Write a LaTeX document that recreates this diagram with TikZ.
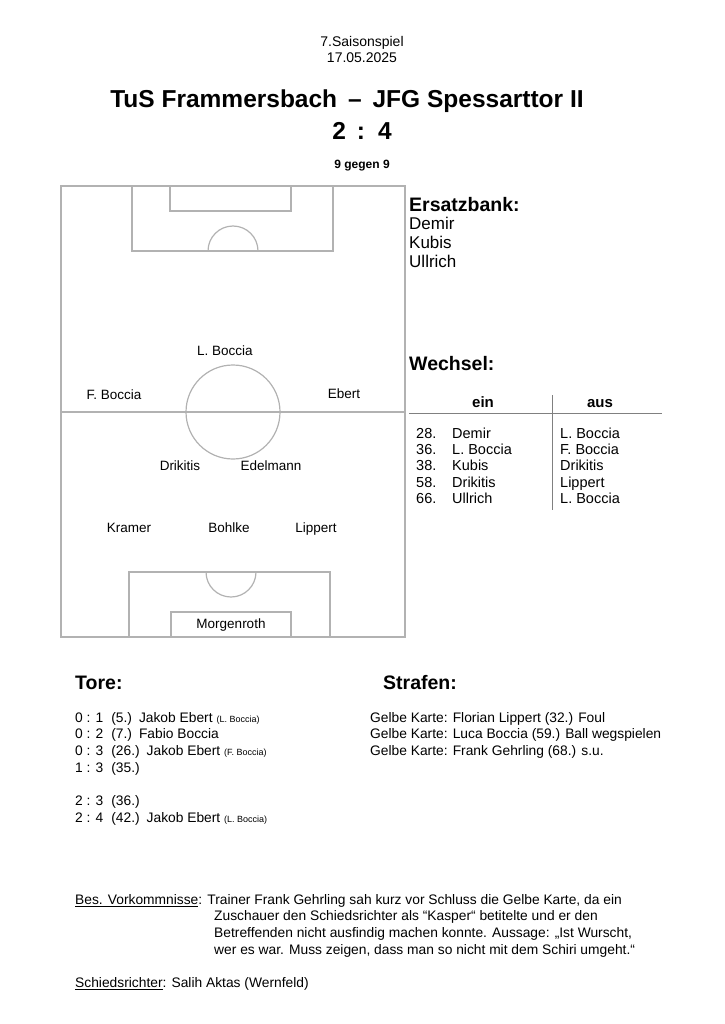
\documentclass[tikz,border=0pt]{standalone}
\usepackage{fontspec}
\setmainfont{Liberation Sans}
\usetikzlibrary{positioning}
\begin{document}
\begin{tikzpicture}[x=1pt,y=-1pt]
        \tikzset{pitch/.style = {draw=gray!60,line width=1.2pt}}
        \tikzset{player/.style = {font=\fontsize{13.5}{15}\selectfont,inner sep=0pt,text height=9.5pt,text depth=2.5pt}}
        \tikzset{txt/.style = {anchor=west,inner sep=0pt,font=\fontsize{13.8}{16}\selectfont,text height=10pt,text depth=3pt}}
        \tikzset{head/.style = {anchor=west,inner sep=0pt,font=\fontsize{19.5}{22}\selectfont\bfseries}}
        \useasboundingbox (0,0) rectangle (724,1024);

        % header
        \node[inner sep=0pt,font=\fontsize{14}{17}\selectfont] (nr) at (362,43) {7.Saisonspiel};
        \node[inner sep=0pt,font=\fontsize{14}{17}\selectfont] (date) at (362,58) {17.05.2025};
        \node[inner sep=0pt,font=\fontsize{24.5}{28}\selectfont\bfseries] (title) at (347,101) {TuS Frammersbach \,--\, JFG Spessarttor II};
        \node[inner sep=0pt,font=\fontsize{24.5}{28}\selectfont\bfseries] (score) at (362,131) {2\, :\, 4};
        \node[inner sep=0pt,font=\fontsize{12}{14}\selectfont\bfseries] (mode) at (362,166) {9 gegen 9};

        % pitch
        \draw[pitch] (61,186) rectangle (405,637);
        \draw[pitch] (61,412) -- (405,412);
        \draw[pitch] (233,412) circle (47);
        \draw[pitch] (132,186) rectangle (333,251);
        \draw[pitch] (170,186) rectangle (291,211);
        \draw[pitch] (258,251) arc (0:-180:25);
        \draw[pitch] (129,572) rectangle (330,637);
        \draw[pitch] (171,612) rectangle (291,637);
        \draw[pitch] (206,572) arc (180:0:25);

        \node[player] (lb) at (225,352) {L. Boccia};
        \node[player] (fb) at (114,396) {F. Boccia};
        \node[player] (eb) at (344,395) {Ebert};
        \node[player] (dr) at (180,467) {Drikitis};
        \node[player] (ed) at (271,467) {Edelmann};
        \node[player] (kr) at (129,529) {Kramer};
        \node[player] (bo) at (229,529) {Bohlke};
        \node[player] (li) at (316,529) {Lippert};
        \node[player] (mo) at (231,625) {Morgenroth};

        % Ersatzbank
        \node[head] (bank) at (409,205) {Ersatzbank:};
        \node[txt,font=\fontsize{17}{19}\selectfont] (b1) at (409,226) {Demir};
        \node[txt,font=\fontsize{17}{19}\selectfont] (b2) at (409,245) {Kubis};
        \node[txt,font=\fontsize{17}{19}\selectfont] (b3) at (409,264) {Ullrich};

        % Wechsel
        \node[head] (wechsel) at (409,364) {Wechsel:};
        \node[player,font=\fontsize{15}{17}\selectfont\bfseries] (ein) at (483,404) {ein};
        \node[player,font=\fontsize{15}{17}\selectfont\bfseries] (aus) at (600,404) {aus};
        \draw[gray] (409,413) -- (662,413);
        \draw[gray] (552,395) -- (552,510);
        \foreach \y/\m/\i/\o in {435/28./Demir/L. Boccia, 451/36./L. Boccia/F. Boccia,
            467/38./Kubis/Drikitis, 484/58./Drikitis/Lippert, 500/66./Ullrich/L. Boccia}{
            \node[txt,font=\fontsize{14.5}{17}\selectfont] at (416,\y) {\m};
            \node[txt,font=\fontsize{14.5}{17}\selectfont] at (452,\y) {\i};
            \node[txt,font=\fontsize{14.5}{17}\selectfont] at (560,\y) {\o};
        }

        % Tore
        \node[head] (tore) at (75,683) {Tore:};
        \node[txt] (t1) at (75,719) {0 : 1\hspace{8pt}(5.)\hspace{7pt}Jakob Ebert {\fontsize{9}{10}\selectfont(L. Boccia)}};
        \node[txt] (t2) at (75,735) {0 : 2\hspace{8pt}(7.)\hspace{7pt}Fabio Boccia};
        \node[txt] (t3) at (75,752) {0 : 3\hspace{8pt}(26.)\hspace{7pt}Jakob Ebert {\fontsize{9}{10}\selectfont(F. Boccia)}};
        \node[txt] (t4) at (75,769) {1 : 3\hspace{8pt}(35.)};
        \node[txt] (t5) at (75,802) {2 : 3\hspace{8pt}(36.)};
        \node[txt] (t6) at (75,819) {2 : 4\hspace{8pt}(42.)\hspace{7pt}Jakob Ebert {\fontsize{9}{10}\selectfont(L. Boccia)}};

        % Strafen
        \node[head] (strafen) at (383,683) {Strafen:};
        \node[txt] (s1) at (370,719) {Gelbe Karte: Florian Lippert (32.) Foul};
        \node[txt] (s2) at (370,735) {Gelbe Karte: Luca Boccia (59.) Ball wegspielen};
        \node[txt] (s3) at (370,752) {Gelbe Karte: Frank Gehrling (68.) s.u.};

        % Vorkommnisse
        \node[txt] (bes) at (75,901) {\underline{Bes. Vorkommnisse}: Trainer Frank Gehrling sah kurz vor Schluss die Gelbe Karte, da ein};
        \node[txt] (bes2) at (214,917) {Zuschauer den Schiedsrichter als “Kasper“ betitelte und er den};
        \node[txt] (bes3) at (214,934) {Betreffenden nicht ausfindig machen konnte. Aussage: „Ist Wurscht,};
        \node[txt] (bes4) at (214,951) {wer es war. Muss zeigen, dass man so nicht mit dem Schiri umgeht.“};
        \node[txt] (schiri) at (75,984) {\underline{Schiedsrichter}: Salih Aktas (Wernfeld)};
\end{tikzpicture}
\end{document}
